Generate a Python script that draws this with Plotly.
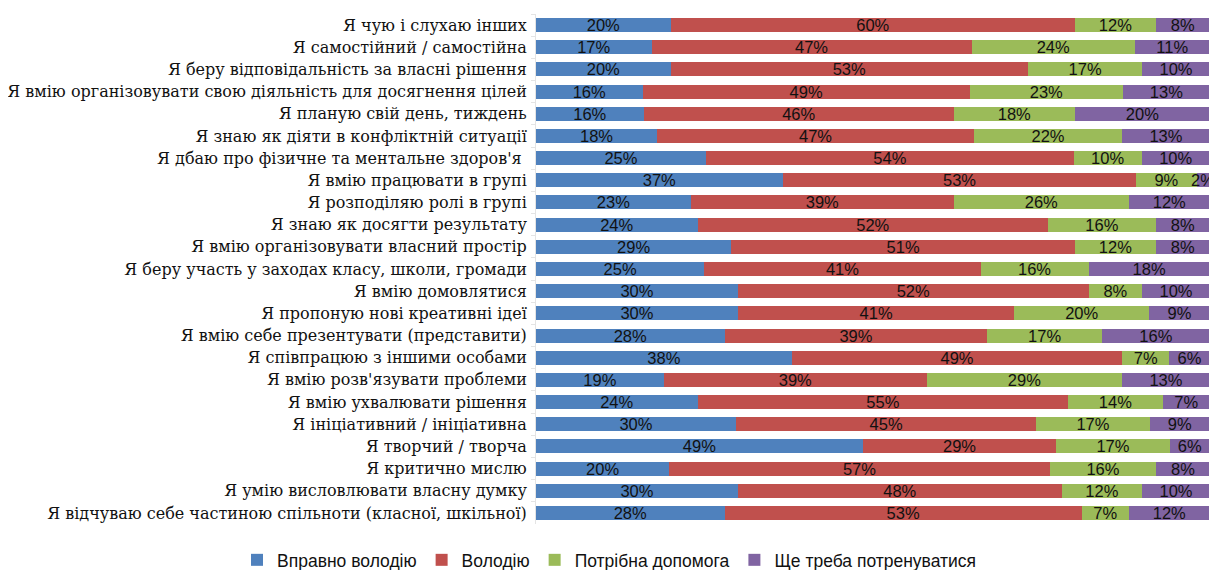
import plotly.graph_objects as go

categories = [
    "Я чую і слухаю інших",
    "Я самостійний / самостійна",
    "Я беру відповідальність за власні рішення",
    "Я вмію організовувати свою діяльність для досягнення цілей",
    "Я планую свій день, тиждень",
    "Я знаю як діяти в конфліктній ситуації",
    "Я дбаю про фізичне та ментальне здоров'я ",
    "Я вмію працювати в групі",
    "Я розподіляю ролі в групі",
    "Я знаю як досягти результату",
    "Я вмію організовувати власний простір",
    "Я беру участь у заходах класу, школи, громади",
    "Я вмію домовлятися",
    "Я пропоную нові креативні ідеї",
    "Я вмію себе презентувати (представити)",
    "Я співпрацюю з іншими особами",
    "Я вмію розв'язувати проблеми",
    "Я вмію ухвалювати рішення",
    "Я ініціативний / ініціативна",
    "Я творчий / творча",
    "Я критично мислю",
    "Я умію висловлювати власну думку",
    "Я відчуваю себе частиною спільноти (класної, шкільної)",
]

vpravno = [20, 17, 20, 16, 16, 18, 25, 37, 23, 24, 29, 25, 30, 30, 28, 38, 19, 24, 30, 49, 20, 30, 28]
volodiyu = [60, 47, 53, 49, 46, 47, 54, 53, 39, 52, 51, 41, 52, 41, 39, 49, 39, 55, 45, 29, 57, 48, 53]
dopomoga = [12, 24, 17, 23, 18, 22, 10, 9, 26, 16, 12, 16, 8, 20, 17, 7, 29, 14, 17, 17, 16, 12, 7]
trenuv = [8, 11, 10, 13, 20, 13, 10, 2, 12, 8, 8, 18, 10, 9, 16, 6, 13, 7, 9, 6, 8, 10, 12]

series_names = ["Вправно володію", "Володію", "Потрібна допомога", "Ще треба потренуватися"]
series_values = [vpravno, volodiyu, dopomoga, trenuv]
colors = ["#4F81BD", "#C0504D", "#9BBB59", "#8064A2"]

label_font = "Liberation Sans, Arial, sans-serif"

fig = go.Figure()
for name, vals, col in zip(series_names, series_values, colors):
    fig.add_trace(go.Bar(
        y=categories,
        x=vals,
        name=name,
        orientation="h",
        marker=dict(color=col, line=dict(width=0)),
        text=[f"{v}%" for v in vals],
        textposition="inside",
        insidetextanchor="middle",
        textangle=0,
        textfont=dict(family=label_font, size=16.5, color="#111111"),
        constraintext="none",
        cliponaxis=False,
    ))

fig.update_layout(
    barmode="stack",
    barnorm="percent",
    bargap=0.37,
    width=1217,
    height=570,
    margin=dict(l=528, r=15, t=6, b=54, autoexpand=False),
    plot_bgcolor="white",
    paper_bgcolor="white",
    uniformtext=dict(minsize=16.5, mode="show"),
    showlegend=True,
    legend=dict(
        orientation="h",
        xref="paper", yref="paper",
        x=-0.4436, y=-0.0705,
        xanchor="left", yanchor="middle",
        font=dict(family=label_font, size=17.5, color="#111111"),
        traceorder="normal",
        itemwidth=30,
    ),
    xaxis=dict(
        range=[0, 100.02],
        showgrid=False,
        showticklabels=False,
        zeroline=False,
        showline=False,
        ticks="",
        automargin=False,
    ),
    yaxis=dict(
        autorange="reversed",
        automargin=False,
        showgrid=False,
        showline=True,
        linecolor="#E4E4E4",
        linewidth=1,
        ticks="outside",
        tickson="boundaries",
        ticklen=4,
        tickcolor="#E4E4E4",
        ticklabelstandoff=5,
        tickfont=dict(family="DejaVu Serif", size=16, color="#111111"),
    ),
)

fig.write_html("out.html")
